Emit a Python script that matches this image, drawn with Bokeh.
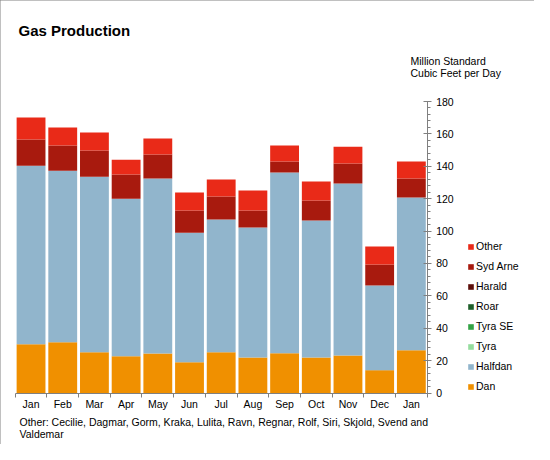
from bokeh.plotting import figure
from bokeh.models import Range1d, FixedTicker, Legend, LegendItem, ColumnDataSource, Label
from bokeh.embed import file_html
from bokeh.resources import INLINE

title_text = "Gas Production"
unit_line1 = "Million Standard"
unit_line2 = "Cubic Feet per Day"
note_line1 = "Other: Cecilie, Dagmar, Gorm, Kraka, Lulita, Ravn, Regnar, Rolf, Siri, Skjold, Svend and"
note_line2 = "Valdemar"

months = ["Jan", "Feb", "Mar", "Apr", "May", "Jun", "Jul", "Aug", "Sep", "Oct", "Nov", "Dec", "Jan"]
series = ["Dan", "Halfdan", "Tyra", "Tyra SE", "Roar", "Harald", "Syd Arne", "Other"]

dan = [30.1, 31.4, 25.2, 22.7, 24.4, 19.0, 25.2, 21.9, 24.6, 21.9, 23.1, 14.1, 26.4]
halfdan = [110.3, 105.9, 108.4, 97.3, 108.0, 80.0, 81.9, 80.3, 111.5, 84.6, 106.2, 52.3, 94.3]
tyra = [0, 0, 0, 0, 0, 0, 0, 0, 0, 0, 0, 0, 0]
tyra_se = [0, 0, 0, 0, 0, 0, 0, 0, 0, 0, 0, 0, 0]
roar = [0, 0, 0, 0, 0, 0, 0, 0, 0, 0, 0, 0, 0]
harald = [0, 0, 0, 0, 0, 0, 0, 0, 0, 0, 0, 0, 0]
syd_arne = [16.1, 15.5, 16.1, 14.9, 14.8, 13.7, 14.2, 10.5, 6.8, 12.3, 12.4, 12.9, 11.7]
other = [13.6, 11.1, 11.1, 9.2, 9.9, 11.1, 10.5, 12.3, 9.9, 11.8, 10.4, 11.1, 10.5]

colors = ["#f09000", "#91b5cc", "#95dd9e", "#33a345", "#1e5f2a", "#5c0e0a", "#a81a0e", "#e92a18"]

y_max = 180
y_ticks = list(range(0, y_max + 1, 20))
y_minor = list(range(0, y_max + 1, 4))

FONT = "Liberation Sans"
FS = "10.5px"
GRAY = "#808080"

# layout in canvas pixels
W, H = 534, 444
n = len(months)
X0_PX = 14.7                 # left edge of the month slots
SLOT_PX = 412 / n            # width of one month slot
Y0_PX = 392.5                # value 0
YTOP_PX = 101.0              # value 180
PX_PER_UNIT = (Y0_PX - YTOP_PX) / y_max

def dx(px):
    return (px - X0_PX) / SLOT_PX

def dy(py):
    return (Y0_PX - py) / PX_PER_UNIT

xs = [i + 0.5 for i in range(n)]
data = dict(x=xs)
for name, vals in zip(series, [dan, halfdan, tyra, tyra_se, roar, harald, syd_arne, other]):
    data[name] = vals
source = ColumnDataSource(data)

# the frame covers the whole canvas so nothing gets clipped; axes are pinned in data space
p = figure(width=W, height=H, output_backend="svg", toolbar_location=None,
           x_range=Range1d(dx(0), dx(W)), y_range=Range1d(dy(H), dy(0)),
           y_axis_location="right",
           min_border_left=0, min_border_right=0, min_border_top=0, min_border_bottom=0)
p.styles = {"outline": "1px solid #808080", "outline-offset": "-1px"}
p.outline_line_color = None
p.xgrid.visible = False
p.ygrid.visible = False
p.background_fill_color = "white"
p.border_fill_color = "white"

renderers = p.vbar_stack(series, x="x", width=0.91, fill_color=colors, line_color=None, source=source)

# x axis: ticks at month boundaries, labels centred under the bars
p.xaxis.fixed_location = 0
p.xaxis.bounds = (0, n)
p.xaxis.ticker = FixedTicker(ticks=xs, minor_ticks=list(range(n + 1)))
p.xaxis.major_label_overrides = {x: m for x, m in zip(xs, months)}
p.xaxis.major_tick_in = 0
p.xaxis.major_tick_out = 0
p.xaxis.major_tick_line_color = None
p.xaxis.minor_tick_in = 0
p.xaxis.minor_tick_out = 4
p.xaxis.minor_tick_line_color = GRAY
p.xaxis.axis_line_color = GRAY
p.xaxis.major_label_standoff = 1

# y axis at the right end of the month slots
p.yaxis.fixed_location = n
p.yaxis.bounds = (0, y_max)
p.yaxis.ticker = FixedTicker(ticks=y_ticks, minor_ticks=y_minor)
p.yaxis.major_tick_in = 4
p.yaxis.major_tick_out = 4
p.yaxis.minor_tick_in = 0
p.yaxis.minor_tick_out = 3
p.yaxis.major_tick_line_color = GRAY
p.yaxis.minor_tick_line_color = GRAY
p.yaxis.axis_line_color = GRAY
p.yaxis.major_label_standoff = 5

for ax in (p.xaxis, p.yaxis):
    ax.major_label_text_font = FONT
    ax.major_label_text_font_size = FS
    ax.major_label_text_color = "black"

items = [LegendItem(label=s, renderers=[r]) for s, r in zip(series, renderers)][::-1]
legend = Legend(items=items, location=(467, H - 394.5), glyph_width=7, glyph_height=7,
                label_height=17, label_standoff=2, spacing=3, padding=0, margin=0,
                border_line_color=None, background_fill_alpha=0,
                label_text_font=FONT, label_text_font_size=FS, label_text_color="black")
p.add_layout(legend, "center")

def lab(px, py, text, size=FS, style="normal"):
    p.add_layout(Label(x=dx(px), y=dy(py), text=text,
                       text_font=FONT, text_font_size=size, text_font_style=style,
                       text_baseline="middle", text_align="left", text_color="black"))

lab(18, 30, title_text, size="15px", style="bold")
lab(410, 60.5, unit_line1)
lab(410, 72, unit_line2)
lab(19, 421.5, note_line1)
lab(19, 433, note_line2)

open("out.html", "w").write(file_html(p, INLINE))
